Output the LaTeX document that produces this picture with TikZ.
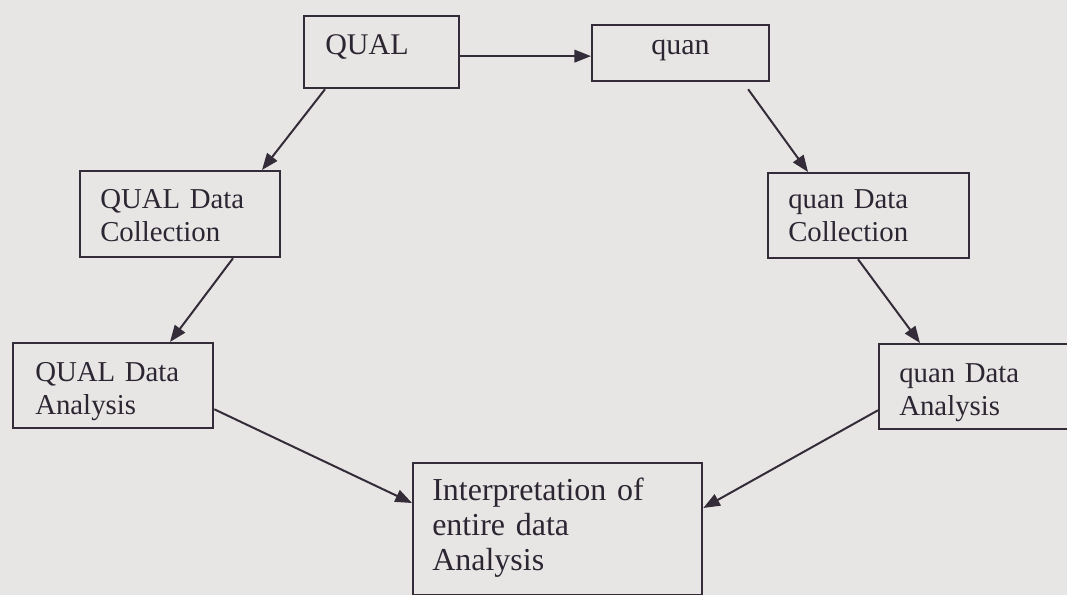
\documentclass[tikz,border=0pt]{standalone}
\usepackage{fontspec}
\setmainfont{Liberation Serif}
\usetikzlibrary{arrows.meta}
\definecolor{bgc}{RGB}{232,230,229}
\definecolor{linec}{RGB}{52,44,56}
\definecolor{textc}{RGB}{44,38,50}
\begin{document}
\begin{tikzpicture}[x=0.75pt,y=-0.75pt,
  box/.style={draw=linec, line width=1.7pt, anchor=north west, inner sep=0pt},
  txt/.style={anchor=base west, inner sep=0pt, align=left, text=textc,
    font=\fontsize{21.6}{24.75}\selectfont},
  bigtxt/.style={txt, font=\fontsize{24}{26.25}\selectfont},
  onetxt/.style={txt, font=\fontsize{22.5}{26}\selectfont},
  arr/.style={draw=linec, line width=1.5pt, -{Triangle[length=12.5pt,width=9.5pt]}}]
\useasboundingbox (0,0) rectangle (1067,595);
\fill[bgc] (0,0) rectangle (1067,595);
\clip (0,0) rectangle (1067,595);
% boxes
\node[box, minimum width=116.25pt, minimum height=54pt] (qual) at (303,15) {};
\node[box, minimum width=132.75pt, minimum height=42pt] (quan) at (591,24) {};
\node[box, minimum width=150pt, minimum height=64.5pt] (qualdc) at (79,170) {};
\node[box, minimum width=150.75pt, minimum height=63.75pt] (quandc) at (767,172) {};
\node[box, minimum width=150pt, minimum height=63.75pt] (qualda) at (12,342) {};
\node[box, minimum width=157.5pt, minimum height=63.75pt] (quanda) at (878,343) {};
\node[box, minimum width=216.75pt, minimum height=99pt] (interp) at (412,462) {};
% texts
\node[onetxt, text width=80pt] (qual-t) at (325,55) {QUAL};
\node[onetxt, text width=60pt] (quan-t) at (651,55) {quan};
\node[txt, text width=115pt] (qualdc-t) at (100,209) {QUAL Data\\Collection};
\node[txt, text width=110pt] (quandc-t) at (788,209) {quan Data\\Collection};
\node[txt, text width=115pt] (qualda-t) at (35,381) {QUAL Data\\Analysis};
\node[txt, text width=110pt] (quanda-t) at (899,382) {quan Data\\Analysis};
\node[bigtxt, text width=165pt] (interp-t) at (432,500) {Interpretation of\\entire data\\Analysis};
% connectors
\draw[arr] ([shift={(0,4)}]qual.east) -- ([shift={(0,3)}]quan.west);
\draw[arr] ([shift={(22,0)}]qual.south west) -- ([shift={(183,0)}]qualdc.north west);
\draw[arr] ([shift={(67.5,7)}]quan.south) -- ([shift={(41,0)}]quandc.north west);
\draw[arr] ([shift={(154,0)}]qualdc.south west) -- ([shift={(158,0)}]qualda.north west);
\draw[arr] ([shift={(91,0)}]quandc.south west) -- ([shift={(42,0)}]quanda.north west);
\draw[arr] ([shift={(0,-20)}]qualda.south east) -- ([shift={(0,41)}]interp.north west);
\draw[arr] ([shift={(0,-20)}]quanda.south west) -- ([shift={(0,46)}]interp.north east);
\end{tikzpicture}
\end{document}
